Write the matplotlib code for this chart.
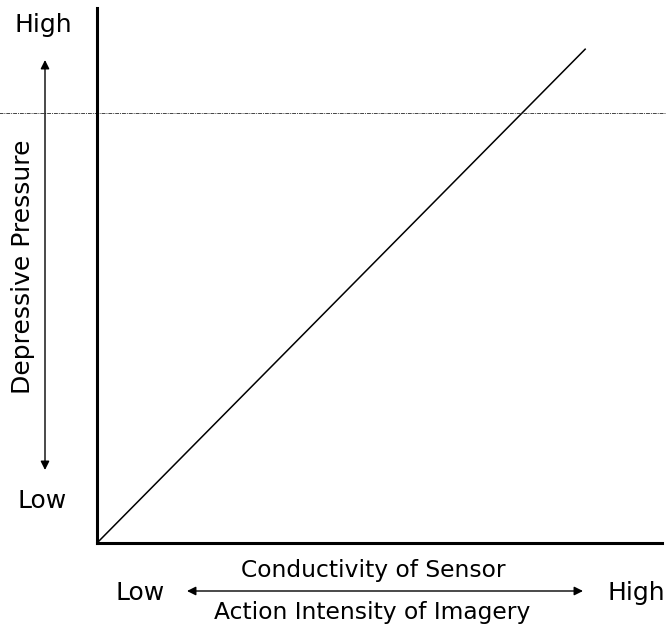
import matplotlib
matplotlib.use("Agg")
import matplotlib.pyplot as plt
from matplotlib.patches import FancyArrowPatch

# relationship line (axes units, 0..1)
line_x = [0.0, 0.864]
line_y = [0.0, 0.923]
ref_level = 0.804  # dashed horizontal line

y_label = "Depressive Pressure"
x_label_top = "Conductivity of Sensor"
x_label_bottom = "Action Intensity of Imagery"
low_text = "Low"
high_text = "High"

W, H = 666, 631
fig = plt.figure(figsize=(W / 100, H / 100), dpi=100)


def fx(px):
    return px / W


def fy(py):
    return 1 - py / H


ax = fig.add_axes([fx(97), fy(543), fx(662) - fx(97), fy(8) - fy(543)])
ax.plot(line_x, line_y, color="black", lw=1.1)
ax.set_xlim(0, 1)
ax.set_ylim(0, 1)
ax.axhline(ref_level, xmin=-0.2, xmax=1.1, color="#444444", lw=0.7,
           ls=(0, (4, 1, 1, 1)), clip_on=False)
ax.set_xticks([])
ax.set_yticks([])
for s in ["top", "right"]:
    ax.spines[s].set_visible(False)
for s in ["left", "bottom"]:
    ax.spines[s].set_linewidth(2.2)

fs = 18
fig.text(fx(43), fy(25), high_text, ha="center", va="center", fontsize=fs)
fig.text(fx(42), fy(501), low_text, ha="center", va="center", fontsize=fs)
fig.text(fx(23), fy(267), y_label, ha="center", va="center", rotation=90, fontsize=18)
fig.text(fx(140), fy(593), low_text, ha="center", va="center", fontsize=fs)
fig.text(fx(636), fy(593), high_text, ha="center", va="center", fontsize=fs)
fig.text(fx(373), fy(570), x_label_top, ha="center", va="center", fontsize=16.8)
fig.text(fx(372), fy(613), x_label_bottom, ha="center", va="center", fontsize=16.8)

for start, end in [((45, 60), (45, 470)), ((187, 591), (583, 591))]:
    fig.add_artist(FancyArrowPatch(
        (fx(start[0]), fy(start[1])), (fx(end[0]), fy(end[1])),
        transform=fig.transFigure, arrowstyle="<|-|>", color="black",
        lw=1.0, mutation_scale=13, shrinkA=0, shrinkB=0))

fig.savefig("out.png", dpi=100)
